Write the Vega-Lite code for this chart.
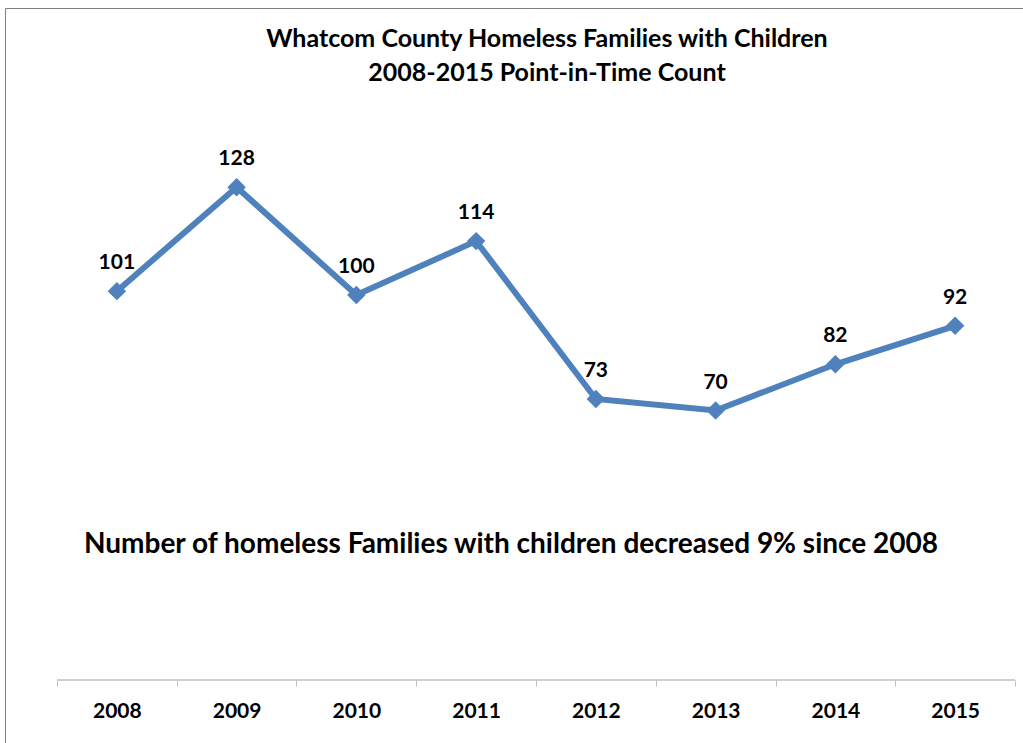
{
  "$schema": "https://vega.github.io/schema/vega-lite/v6.json",
  "width": 1023,
  "height": 743,
  "autosize": {"type": "fit", "contains": "padding"},
  "padding": {"left": 5, "top": 8, "right": -20, "bottom": -20},
  "background": "white",
  "config": {"view": {"stroke": "#808080", "strokeWidth": 1}, "font": "Lato"},
  "title": {
    "text": ["Whatcom County Homeless Families with Children", "2008-2015 Point-in-Time Count"],
    "anchor": "middle",
    "font": "Lato",
    "fontSize": 25,
    "fontWeight": "bold",
    "lineHeight": 34,
    "offset": 0,
    "dx": 23,
    "dy": 78,
    "color": "black"
  },
  "data": {
    "values": [
      {"year": "2008", "value": 101},
      {"year": "2009", "value": 128},
      {"year": "2010", "value": 100},
      {"year": "2011", "value": 114},
      {"year": "2012", "value": 73},
      {"year": "2013", "value": 70},
      {"year": "2014", "value": 82},
      {"year": "2015", "value": 92}
    ]
  },
  "layer": [
    {
      "mark": {"type": "bar", "fillOpacity": 0, "stroke": "#bfbfbf", "strokeWidth": 1},
      "encoding": {
        "x": {
          "field": "year",
          "type": "ordinal",
          "scale": {"paddingInner": 0, "paddingOuter": 0.334, "align": 0.65},
          "axis": {
            "orient": "bottom",
            "title": null,
            "domain": false,
            "tickBand": "extent",
            "ticks": true,
            "tickSize": 6,
            "tickColor": "#bfbfbf",
            "labelAngle": 0,
            "labelFont": "Lato",
            "labelFontSize": 21,
            "labelFontWeight": "bold",
            "labelColor": "black",
            "labelPadding": 14,
            "offset": -83
          }
        },
        "y": {"datum": 0, "type": "quantitative", "scale": {"domain": [0, 140], "range": [672, 133], "nice": false}, "axis": null},
        "y2": {"datum": 0}
      }
    },
    {
      "mark": {"type": "line", "color": "#4F81BD", "strokeWidth": 6},
      "encoding": {
        "x": {"field": "year", "type": "ordinal"},
        "y": {"field": "value", "type": "quantitative", "axis": null}
      }
    },
    {
      "mark": {"type": "point", "shape": "diamond", "filled": true, "color": "#4F81BD", "opacity": 1, "size": 340},
      "encoding": {
        "x": {"field": "year", "type": "ordinal"},
        "y": {"field": "value", "type": "quantitative", "axis": null}
      }
    },
    {
      "mark": {"type": "text", "font": "Lato", "fontSize": 21, "fontWeight": "bold", "color": "black", "baseline": "middle", "dy": -28},
      "encoding": {
        "x": {"field": "year", "type": "ordinal"},
        "y": {"field": "value", "type": "quantitative", "axis": null},
        "text": {"field": "value", "type": "quantitative"}
      }
    },
    {
      "data": {"values": [{"note": "Number of homeless Families with children decreased 9% since 2008"}]},
      "mark": {"type": "text", "font": "Lato", "fontSize": 28, "fontWeight": "bold", "color": "black", "baseline": "middle", "align": "center", "dx": -13},
      "encoding": {
        "y": {"datum": 35, "type": "quantitative", "axis": null},
        "text": {"field": "note", "type": "nominal"}
      }
    }
  ]
}
